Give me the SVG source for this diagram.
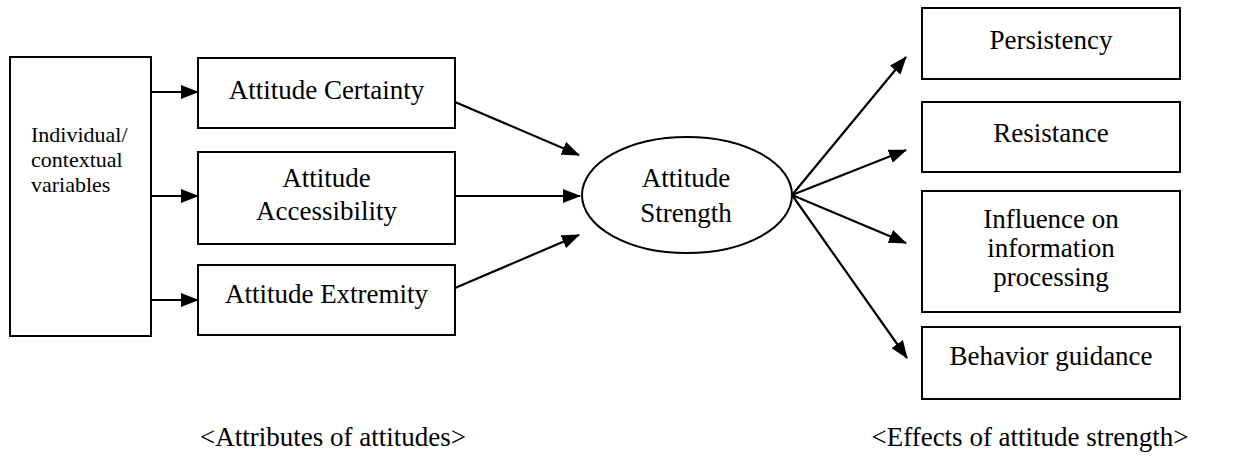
<svg xmlns="http://www.w3.org/2000/svg" width="1233" height="462" viewBox="0 0 1233 462">
<style>
.box{fill:#fff;stroke:#000;stroke-width:2}
text{font-family:'Liberation Serif','Times New Roman',Tinos,'DejaVu Serif',serif;fill:#000}
.t{font-size:27px;text-anchor:middle}
.s{font-size:22px}
.c{stroke:#000;stroke-width:2.2;fill:none;marker-end:url(#ah)}
</style>
<defs>
<marker id="ah" markerUnits="userSpaceOnUse" markerWidth="18" markerHeight="14" refX="17" refY="7" orient="auto">
<path d="M0,0 L18,7 L0,14 Z" fill="#000"/>
</marker>
</defs>
<rect width="1233" height="462" fill="#fff"/>
<g id="connectors">
<line class="c" x1="151" y1="92" x2="198" y2="92"/>
<line class="c" x1="151" y1="196" x2="198" y2="196"/>
<line class="c" x1="151" y1="300" x2="198" y2="300"/>
<line class="c" x1="455" y1="102" x2="579" y2="155"/>
<line class="c" x1="455" y1="196" x2="580" y2="196"/>
<line class="c" x1="455" y1="288" x2="579" y2="235"/>
<line class="c" x1="792" y1="195" x2="906" y2="57"/>
<line class="c" x1="792" y1="195" x2="906" y2="150"/>
<line class="c" x1="792" y1="195" x2="906" y2="243"/>
<line class="c" x1="792" y1="195" x2="907" y2="358"/>
</g>
<g id="n-individual">
<rect class="box" x="10" y="57" width="141" height="279"/>
<text class="s" x="31" y="142" font-family="Liberation Serif">Individual/</text>
<text class="s" x="31" y="167" font-family="Liberation Serif">contextual</text>
<text class="s" x="31" y="192" font-family="Liberation Serif">variables</text>
</g>
<g id="n-certainty">
<rect class="box" x="198" y="58" width="257" height="70"/>
<text class="t" x="326.5" y="99">Attitude Certainty</text>
</g>
<g id="n-accessibility">
<rect class="box" x="198" y="152" width="257" height="92"/>
<text class="t" x="326.5" y="187">Attitude</text>
<text class="t" x="326.5" y="220">Accessibility</text>
</g>
<g id="n-extremity">
<rect class="box" x="198" y="265" width="257" height="70"/>
<text class="t" x="326.5" y="303">Attitude Extremity</text>
</g>
<g id="n-strength">
<ellipse class="box" cx="687" cy="195" rx="105" ry="58" stroke-width="1.8"/>
<text class="t" x="686" y="187">Attitude</text>
<text class="t" x="686" y="222">Strength</text>
</g>
<g id="n-persistency">
<rect class="box" x="922" y="8" width="258" height="71"/>
<text class="t" x="1051" y="49">Persistency</text>
</g>
<g id="n-resistance">
<rect class="box" x="922" y="102" width="258" height="70"/>
<text class="t" x="1051" y="142">Resistance</text>
</g>
<g id="n-influence">
<rect class="box" x="922" y="191" width="258" height="121"/>
<text class="t" x="1051" y="228">Influence on</text>
<text class="t" x="1051" y="257">information</text>
<text class="t" x="1051" y="286">processing</text>
</g>
<g id="n-behavior">
<rect class="box" x="922" y="327" width="258" height="72"/>
<text class="t" x="1051" y="365">Behavior guidance</text>
</g>
<g id="captions">
<text class="t" x="333" y="446">&lt;Attributes of attitudes&gt;</text>
<text class="t" x="1030" y="446">&lt;Effects of attitude strength&gt;</text>
</g>
</svg>
